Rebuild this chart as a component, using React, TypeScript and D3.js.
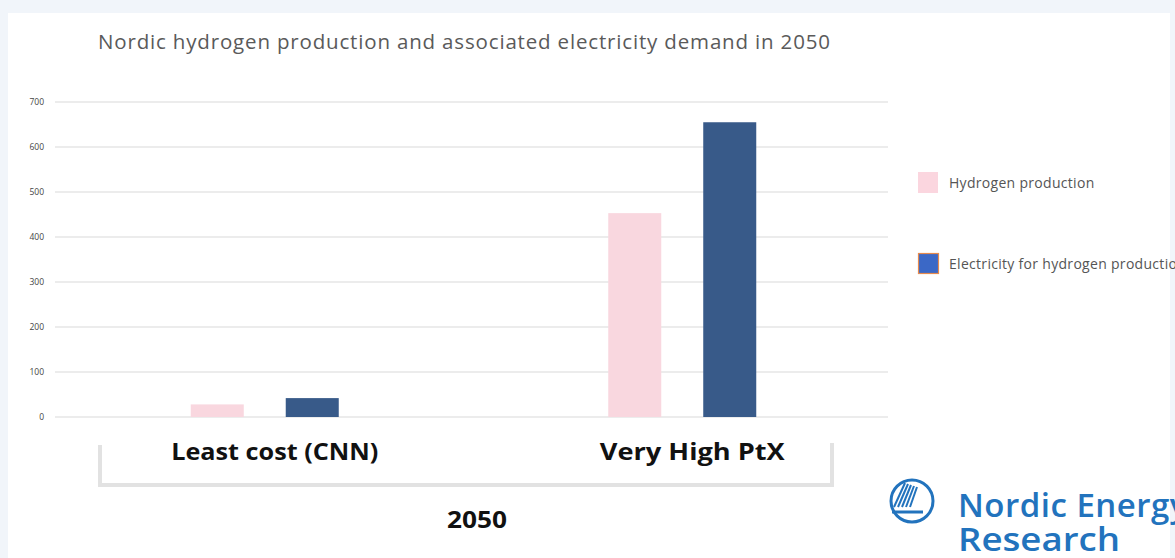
import React from "react";
import * as d3 from "d3";

const categories = ["Least cost (CNN)", "Very High PtX"];
const series = ["Hydrogen production", "Electricity for hydrogen production"];
const hydrogen = [28, 453];
const electricity = [42, 655];
const yTicks = [0, 100, 200, 300, 400, 500, 600, 700];
const groupLabel = "2050";
const title = "Nordic hydrogen production and associated electricity demand in 2050";

const W = 1175;
const H = 558;
const catLabelWidths = [207, 185];

export default function App() {
  const x = d3.scaleBand<string>().domain(categories).range([56, 891]).padding(0);
  const inner = d3.scaleBand<string>().domain(series).range([-74, 74]).paddingInner(0.442);
  const y = d3.scaleLinear().domain([0, 700]).range([417, 102]);
  const values = [hydrogen, electricity];
  const barFill = ["#f9d7df", "#385a89"];

  return (
    <svg width={W} height={H} style={{ position: "absolute", left: 0, top: 0 }}>
      <rect x={0} y={0} width={W} height={H} fill="#f1f5fa" />
      <rect x={8} y={13} width={1162} height={H - 13} fill="#ffffff" />
      <text x={98} y={49} fontFamily="Open Sans" fontSize={20.5} fill="#5a5a5a" textLength={732} lengthAdjust="spacing">{title}</text>
      {yTicks.map((t) => (
        <g key={t}>
          <line x1={55} x2={888} y1={y(t)} y2={y(t)} stroke="#e6e6e6" strokeWidth={1.5} />
          <text x={44} y={y(t) + 3} textAnchor="end" fontFamily="Open Sans" fontSize={8.5} fill="#444">{t}</text>
        </g>
      ))}
      {categories.map((c, ci) => {
        const cx = (x(c) as number) + x.bandwidth() / 2;
        return (
          <g key={c}>
            {series.map((s, si) => (
              <rect
                key={s}
                x={cx + (inner(s) as number)}
                y={y(values[si][ci])}
                width={inner.bandwidth()}
                height={y(0) - y(values[si][ci])}
                fill={barFill[si]}
              />
            ))}
            <text x={cx + 10 - catLabelWidths[ci] / 2} y={460} fontFamily="Open Sans" fontWeight="bold" fontSize={24} fill="#111" textLength={catLabelWidths[ci]} lengthAdjust="spacingAndGlyphs">{c}</text>
          </g>
        );
      })}
      <path d="M100,445 V485 H832 V443" fill="none" stroke="#e2e2e2" strokeWidth={4} />
      <text x={447} y={528} fontFamily="Open Sans" fontWeight="bold" fontSize={24} fill="#111" textLength={60} lengthAdjust="spacingAndGlyphs">{groupLabel}</text>
      {/* legend */}
      <rect x={918} y={172} width={20} height={21} fill="#fbd6df" />
      <text x={949} y={188} fontFamily="Open Sans" fontSize={14} letterSpacing={0.3} fill="#555">{series[0]}</text>
      <rect x={918.5} y={253.5} width={20} height={20} fill="#3b68c6" stroke="#e58a4e" strokeWidth={1.2} />
      <text x={949} y={269} fontFamily="Open Sans" fontSize={14} letterSpacing={0.3} fill="#555">{series[1]}</text>
      {/* logo */}
      <g stroke="#2273bd" fill="none" strokeWidth={3}>
        <circle cx={912} cy={501} r={21} />
        <line x1={892} y1={512} x2={923} y2={512} />
        {[0, 1, 2, 3, 4].map((i) => (
          <line key={i} x1={894 + i * 4} y1={507} x2={905 + i * 3} y2={483 + i * 1} strokeWidth={2} />
        ))}
      </g>
      <text x={958} y={517} fontFamily="Open Sans" fontWeight={600} fontSize={33} fill="#2273bd" letterSpacing={0.5}>Nordic Energy</text>
      <text x={958} y={551} fontFamily="Open Sans" fontWeight={600} fontSize={33} fill="#2273bd" textLength={162} lengthAdjust="spacingAndGlyphs">Research</text>
    </svg>
  );
}
